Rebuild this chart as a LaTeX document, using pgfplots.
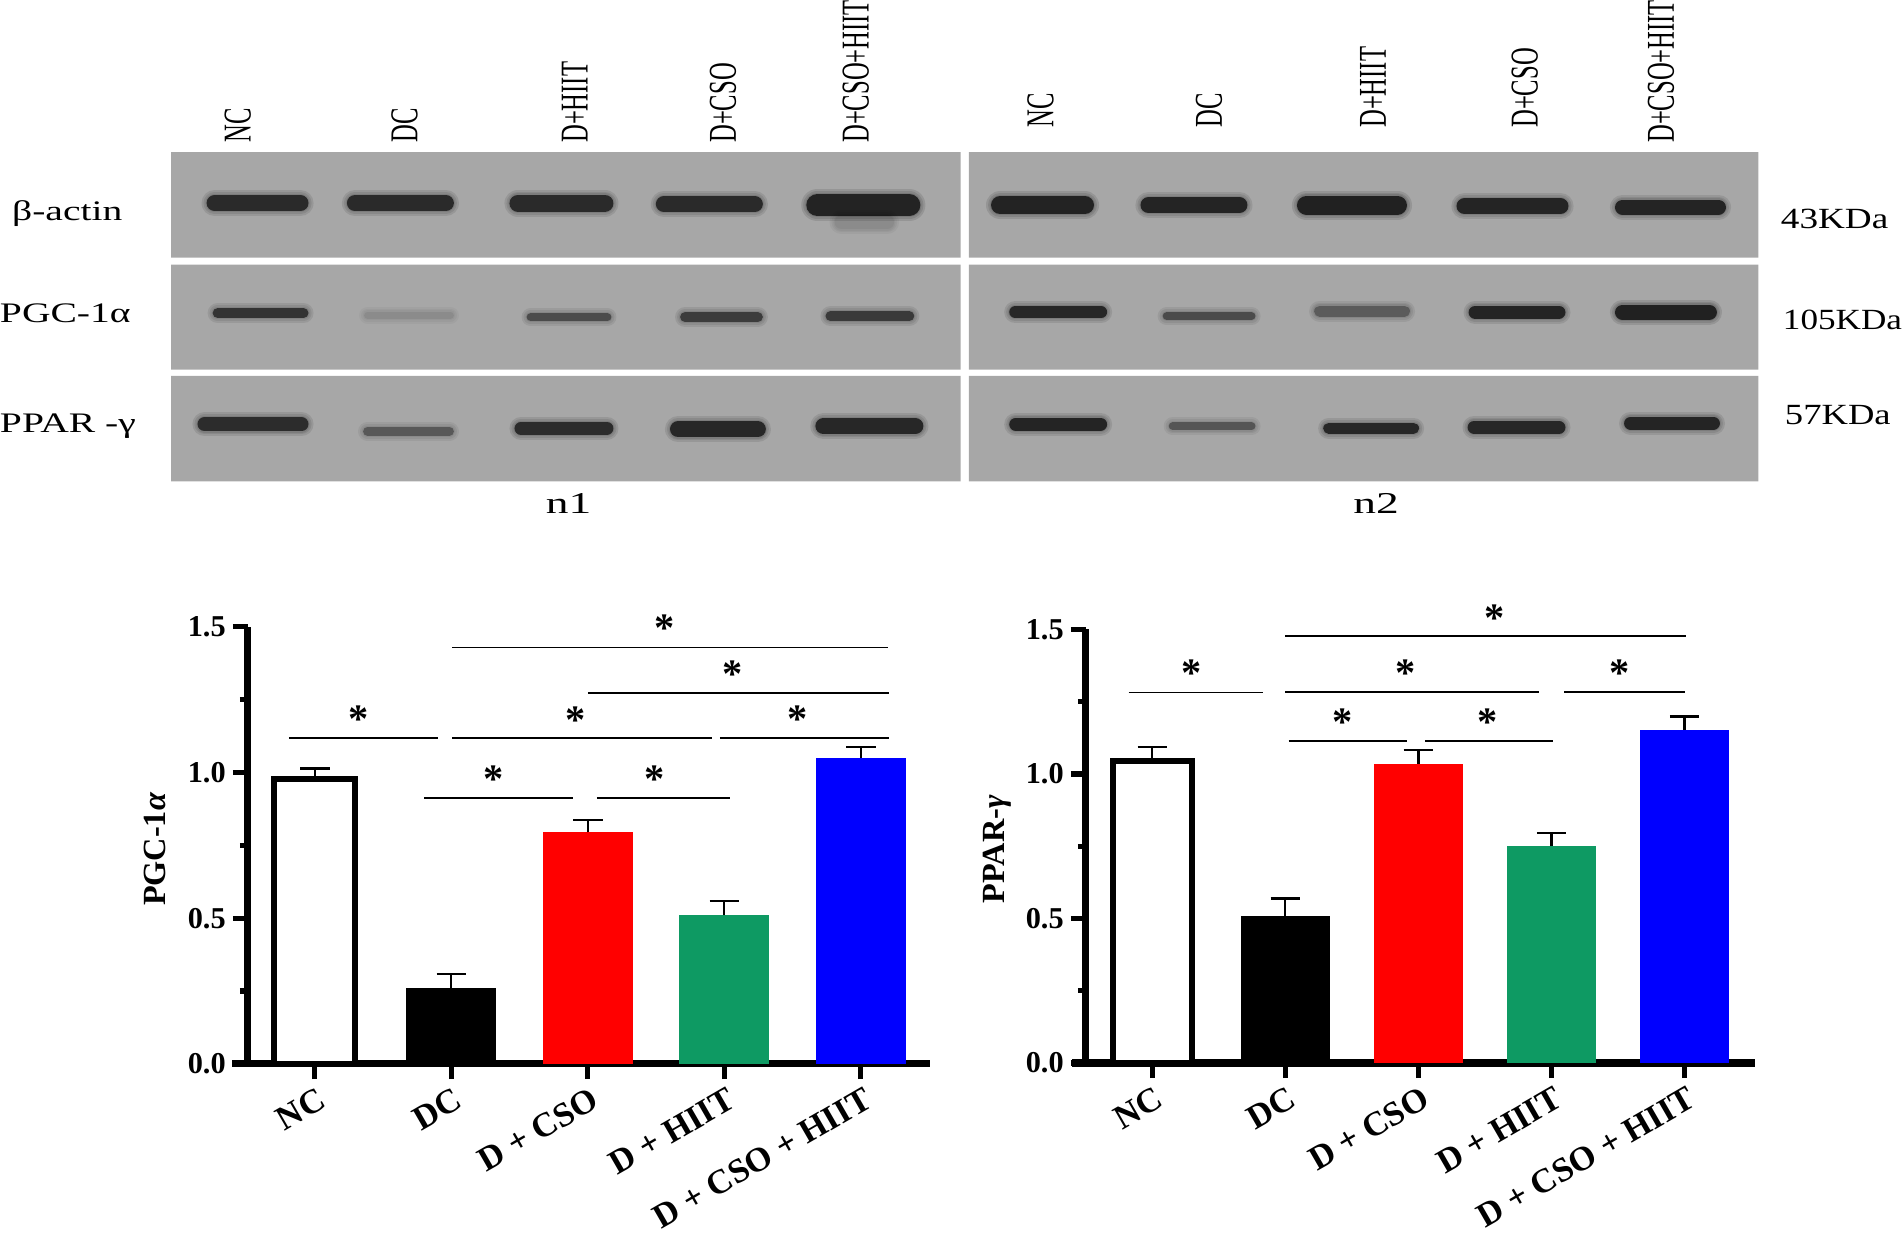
\documentclass[border=0pt]{standalone}
\usepackage{fontspec}
\setmainfont{Liberation Serif}
\usepackage{graphicx}
\usepackage{pgfplots}
\pgfplotsset{compat=1.18}

\definecolor{blotgray}{RGB}{167,167,167}
\definecolor{pgreen}{RGB}{14,154,99}

% band: x1 x2 y core-width(pt) core-opacity halo-opacity
\newcommand{\band}[6]{%
  \addplot[draw=black, line cap=round, line width=#4pt+5pt, opacity=#6] coordinates {(#1,#3) (#2,#3)};
  \addplot[draw=black, line cap=round, line width=#4pt+3pt, opacity=#6] coordinates {(#1,#3) (#2,#3)};
  \addplot[draw=black, line cap=round, line width=#4pt+1.2pt, opacity=#6] coordinates {(#1,#3) (#2,#3)};
  \addplot[draw=black, line cap=round, line width=#4pt, opacity=#5] coordinates {(#1,#3) (#2,#3)};
}
\newcommand{\lane}[3]{% x ybottom text
  \node[rotate=90, anchor=west, inner sep=0] at (axis cs:#1,#2) {\scalebox{1}[1.6]{\fontsize{12.2}{14}\selectfont #3}};
}
\newcommand{\panel}[4]{%
  \addplot[fill=blotgray, draw=none] coordinates {(#1,#2) (#3,#2) (#3,#4) (#1,#4) (#1,#2)};
}
\newcommand{\sig}[3]{% x1 x2 y
  \addplot[black, line width=0.8pt] coordinates {(#1,#3) (#2,#3)};
}
\newcommand{\sigstar}[2]{%
  \node[inner sep=0, yshift=-2.6pt, font=\fontsize{20}{22}\selectfont\bfseries] at (axis cs:#1,#2) {*};
}

\pgfplotsset{
  barchart/.style={
    scale only axis, clip=false,
    ymin=0, ymax=1.5,
    axis x line*=bottom, axis y line*=left,
    axis line style={line width=3.5pt, black},
    tick style={line width=2.6pt, black},
    tick align=outside,
    major tick length=7.5pt, minor tick length=4pt,
    ytick={0,0.5,1,1.5}, minor ytick={0.25,0.75,1.25},
    xtick={0,1,2,3,4},
    xticklabels={NC, DC, D + CSO, D + HIIT, D + CSO + HIIT},
    yticklabel style={font=\fontsize{15}{18}\selectfont\bfseries,
      /pgf/number format/.cd, fixed, fixed zerofill, precision=1, assume math mode=true},
    xticklabel style={font=\fontsize{17}{20}\selectfont\bfseries, rotate=30, anchor=north east, inner sep=1pt, yshift=-2.5pt},
    error bars/y dir=plus, error bars/y explicit,
    error bars/error mark=-,
    error bars/error bar style={line width=1.1pt, black},
    error bars/error mark options={rotate=90, line width=1.1pt, mark size=7.3pt, black},
  },
}

\begin{document}
\begin{tikzpicture}
% ---------------- blot canvas (pixel coordinates) ----------------
\begin{axis}[name=blot, at={(0pt,0pt)}, anchor=north west,
  width=951pt, height=617pt, scale only axis,
  xmin=0, xmax=1902, ymin=0, ymax=1234, y dir=reverse,
  hide axis, clip=false]
\panel{176}{156.5}{958}{261}
\panel{176}{268}{958}{372}
\panel{176}{378}{958}{482.6}
\panel{966}{156.5}{1748}{261}
\panel{966}{268}{1748}{372}
\panel{966}{378}{1748}{482.6}
% left group bands
\band{219}{304}{207}{8}{0.66}{0.09}
\band{358}{448}{207}{8}{0.66}{0.09}
\band{519.5}{605.5}{207}{8.5}{0.66}{0.09}
\band{664}{754}{208}{8}{0.66}{0.09}
\band{816}{907}{209}{11}{0.7}{0.1}
\band{840}{885}{226}{7}{0.05}{0.04}
\band{222}{307}{316}{5}{0.6}{0.08}
\band{370.5}{452.5}{318}{3.5}{0.07}{0.03}
\band{532}{608}{320}{4}{0.43}{0.07}
\band{685}{757}{320}{5}{0.53}{0.08}
\band{829}{907}{319}{5}{0.55}{0.08}
\band{209}{305}{426}{7}{0.64}{0.09}
\band{370.5}{451.5}{433}{4.5}{0.36}{0.06}
\band{522.5}{607.5}{430}{6.5}{0.64}{0.09}
\band{678}{757}{431}{8}{0.68}{0.09}
\band{822}{913}{428}{8}{0.68}{0.09}
% right group bands
\band{997}{1081}{209}{9}{0.7}{0.1}
\band{1144}{1234}{209}{8}{0.7}{0.09}
\band{1300.5}{1390.5}{209}{9.5}{0.72}{0.1}
\band{1457}{1552}{210}{8}{0.7}{0.09}
\band{1613.5}{1708.5}{211}{7.5}{0.7}{0.09}
\band{1012}{1097}{315}{6}{0.68}{0.09}
\band{1162}{1246}{319}{4}{0.43}{0.07}
\band{1313.5}{1397.5}{314}{5.5}{0.31}{0.07}
\band{1467.5}{1550.5}{315}{6.5}{0.7}{0.09}
\band{1613.5}{1699.5}{315}{7.5}{0.72}{0.1}
\band{1012.5}{1096.5}{426}{6.5}{0.7}{0.09}
\band{1168}{1246}{428}{4}{0.38}{0.06}
\band{1322.5}{1406.5}{430}{5.5}{0.68}{0.09}
\band{1466.5}{1550.5}{429}{6.5}{0.68}{0.09}
\band{1621.5}{1703.5}{425}{6.5}{0.7}{0.09}
% lane labels
\lane{242}{147.6}{NC}
\lane{407}{147.6}{DC}
\lane{575.6}{147.6}{D+HIIT}
\lane{722.6}{147.6}{D+CSO}
\lane{854}{147.6}{D+CSO+HIIT}
\lane{1037}{132.7}{NC}
\lane{1203.8}{132.7}{DC}
\lane{1366.4}{132.7}{D+HIIT}
\lane{1516.7}{132.7}{D+CSO}
\lane{1651.7}{147.6}{D+CSO+HIIT}
% row labels
\node[anchor=base west, inner sep=0] at (axis cs:18,224) {\scalebox{1.4}[1]{\fontsize{14}{16}\selectfont β-actin}};
\node[anchor=base west, inner sep=0] at (axis cs:6,325) {\scalebox{1.4}[1]{\fontsize{14}{16}\selectfont PGC-1α}};
\node[anchor=base west, inner sep=0] at (axis cs:6,434.5) {\scalebox{1.4}[1]{\fontsize{14}{16}\selectfont PPAR -γ}};
\node[anchor=base west, inner sep=0] at (axis cs:1770,232) {\scalebox{1.27}[1]{\fontsize{14.5}{16}\selectfont 43KDa}};
\node[anchor=base west, inner sep=0] at (axis cs:1772,331.7) {\scalebox{1.2}[1]{\fontsize{14.5}{16}\selectfont 105KDa}};
\node[anchor=base west, inner sep=0] at (axis cs:1774,426) {\scalebox{1.25}[1]{\fontsize{14.5}{16}\selectfont 57KDa}};
\node[anchor=base, inner sep=0] at (axis cs:569.5,514) {\scalebox{1.5}[1]{\fontsize{15}{17}\selectfont n1}};
\node[anchor=base, inner sep=0] at (axis cs:1369.4,514) {\scalebox{1.5}[1]{\fontsize{15}{17}\selectfont n2}};
% y axis labels of bar charts
\node[rotate=90, inner sep=0] at (axis cs:160,847) {\fontsize{16}{19}\selectfont\bfseries PGC-1\textit{α}};
\node[rotate=90, inner sep=0] at (axis cs:994.5,847) {\fontsize{16}{19}\selectfont\bfseries PPAR-\textit{γ}};
\end{axis}

% ---------------- PGC-1alpha bar chart ----------------
\begin{axis}[barchart, at={(126pt,-529.8pt)}, anchor=south west,
  width=338pt, height=216.45pt, xmin=-0.49, xmax=4.51]
\addplot[ybar, bar shift=0pt, bar width=0.592, fill=white, draw=black, line width=3pt,
  error bars/error bar style={line width=1.1pt}] coordinates {(0,0.978) +- (0,0.036)};
\addplot[ybar, bar shift=0pt, bar width=0.658, fill=black, draw=none] coordinates {(1,0.26) +- (0,0.048)};
\addplot[ybar, bar shift=0pt, bar width=0.658, fill=red, draw=none] coordinates {(2,0.795) +- (0,0.043)};
\addplot[ybar, bar shift=0pt, bar width=0.658, fill=pgreen, draw=none] coordinates {(3,0.51) +- (0,0.05)};
\addplot[ybar, bar shift=0pt, bar width=0.658, fill=blue, draw=none] coordinates {(4,1.05) +- (0,0.038)};
\draw[line width=3.5pt] (axis cs:-0.604,0) -- (axis cs:-0.49,0);
\sig{-0.19}{0.905}{1.119}
\sig{0.80}{1.89}{0.912}
\sig{2.066}{3.04}{0.912}
\sig{1.006}{2.91}{1.119}
\sig{2.967}{4.205}{1.119}
\sig{2.0}{4.205}{1.273}
\sig{1.006}{4.2}{1.429}
\sigstar{0.317}{1.202}
\sigstar{1.31}{0.994}
\sigstar{2.49}{0.994}
\sigstar{1.91}{1.199}
\sigstar{3.535}{1.202}
\sigstar{3.06}{1.355}
\sigstar{2.56}{1.513}
\end{axis}

% ---------------- PPAR-gamma bar chart ----------------
\begin{axis}[barchart, at={(541pt,-529.35pt)}, anchor=south west,
  width=331.4pt, height=214.75pt, xmin=-0.4985, xmax=4.53]
\addplot[ybar, bar shift=0pt, bar width=0.595, fill=white, draw=black, line width=3pt,
  error bars/error bar style={line width=1.1pt}] coordinates {(0,1.044) +- (0,0.048)};
\addplot[ybar, bar shift=0pt, bar width=0.664, fill=black, draw=none] coordinates {(1,0.507) +- (0,0.062)};
\addplot[ybar, bar shift=0pt, bar width=0.664, fill=red, draw=none] coordinates {(2,1.035) +- (0,0.048)};
\addplot[ybar, bar shift=0pt, bar width=0.664, fill=pgreen, draw=none] coordinates {(3,0.751) +- (0,0.044)};
\addplot[ybar, bar shift=0pt, bar width=0.664, fill=blue, draw=none] coordinates {(4,1.152) +- (0,0.047)};
\draw[line width=3.5pt] (axis cs:-0.6,0) -- (axis cs:-0.4985,0);
\sig{-0.178}{0.833}{1.282}
\addplot[black, line width=1.1pt] coordinates {(1.0,1.478) (4.008,1.478)};
\sig{1.0}{2.905}{1.283}
\sig{3.096}{4.0}{1.283}
\sig{1.024}{1.913}{1.113}
\sig{2.05}{3.008}{1.113}
\sigstar{0.298}{1.366}
\sigstar{2.57}{1.558}
\sigstar{1.905}{1.366}
\sigstar{3.51}{1.366}
\sigstar{1.43}{1.196}
\sigstar{2.52}{1.196}
\end{axis}
\end{tikzpicture}
\end{document}
